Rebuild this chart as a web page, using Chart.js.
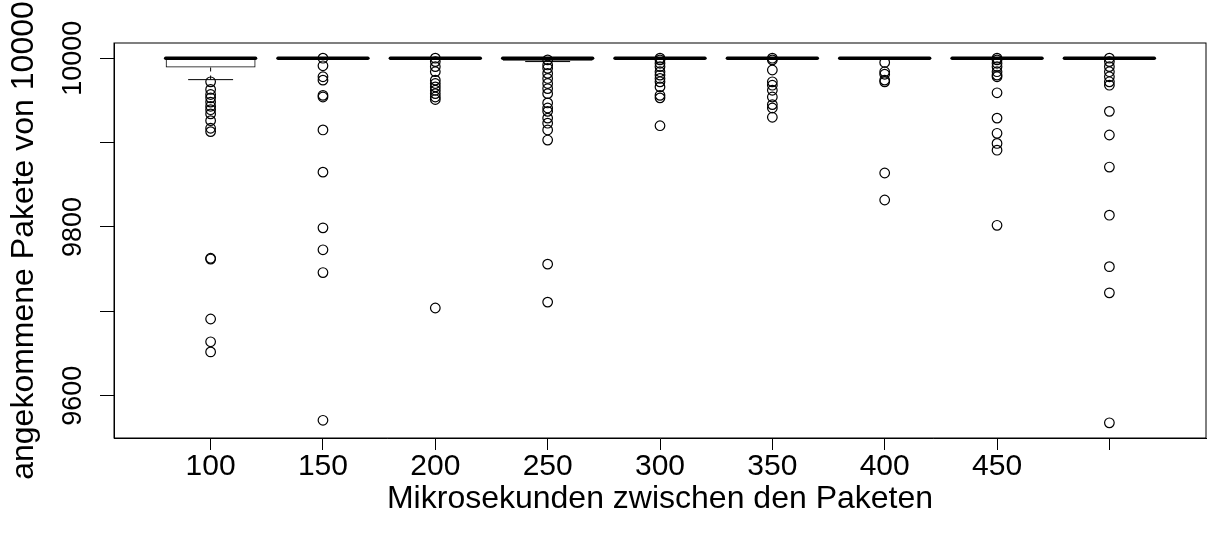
<!DOCTYPE html>
<html lang="de">
<head>
  <meta charset="UTF-8">
  <title>Angekommene Pakete</title>
  <script src="https://cdn.jsdelivr.net/npm/chart.js"></script>
  <style>
    html, body { margin: 0; padding: 0; background: #fff; }
    #wrap { width: 1207px; height: 540px; }
  </style>
</head>
<body>
<div id="wrap"><canvas id="boxChart" width="1207" height="540"></canvas></div>

<script>
  // groups (microseconds between packets); last tick has no label in the original
  const groupLabels = ['100', '150', '200', '250', '300', '350', '400', '450', ''];

  // box statistics per group
  const lowerWhisker = [9974.6, 10000, 10000, 9996, 10000, 10000, 10000, 10000, 10000];
  const lowerQuart   = [9989, 10000, 10000, 9997, 10000, 10000, 10000, 10000, 10000];
  const medians      = [10000, 10000, 10000, 10000, 10000, 10000, 10000, 10000, 10000];
  const upperQuart   = [10000, 10000, 10000, 10000, 10000, 10000, 10000, 10000, 10000];
  const upperWhisker = [10000, 10000, 10000, 10000, 10000, 10000, 10000, 10000, 10000];

  // outliers per group
  const out100 = [9972, 9963, 9957, 9953, 9948, 9943, 9939, 9934, 9926, 9917, 9913, 9763, 9762, 9691, 9664, 9652];
  const out150 = [10000, 9991, 9978, 9974, 9956, 9954, 9915, 9865, 9799, 9773, 9746, 9571];
  const out200 = [10000, 9996, 9990, 9984, 9974, 9970, 9966, 9962, 9958, 9954, 9951, 9704];
  const out250 = [9998, 9992, 9988, 9982, 9976, 9970, 9964, 9958, 9947, 9941, 9937, 9929, 9923, 9915, 9903, 9756, 9711];
  const out300 = [10000, 9998, 9994, 9990, 9984, 9980, 9976, 9972, 9966, 9956, 9953, 9920];
  const out350 = [10000, 9998, 9986, 9972, 9968, 9962, 9954, 9945, 9941, 9930];
  const out400 = [9995, 9984, 9981, 9974, 9972, 9864, 9832];
  const out450 = [10000, 9998, 9994, 9990, 9984, 9980, 9978, 9959, 9929, 9911, 9899, 9891, 9802];
  const out500 = [10000, 9996, 9990, 9984, 9978, 9972, 9968, 9937, 9909, 9871, 9814, 9753, 9722, 9568];

  const yTicks = [9600, 9700, 9800, 9900, 10000];
  const yTickLabels = ['9600', '', '9800', '', '10000'];

  const allOutliers = [out100, out150, out200, out250, out300, out350, out400, out450, out500];

  const boxData = groupLabels.map((_, i) => ({ x: i + 1, y: [lowerQuart[i], upperQuart[i]] }));
  const pointData = [];
  allOutliers.forEach((arr, i) => arr.forEach(v => pointData.push({ x: i + 1, y: v })));

  const FONT = '"Liberation Sans", Arial, Helvetica, sans-serif';

  // whiskers, staples, medians and the frame, drawn from the scales
  const boxplotExtras = {
    id: 'boxplotExtras',
    afterDatasetsDraw(chart) {
      const { ctx, chartArea } = chart;
      const xs = chart.scales.x, ys = chart.scales.y;
      const half = (xs.getPixelForValue(2) - xs.getPixelForValue(1)) * 0.4;
      ctx.save();
      ctx.strokeStyle = '#000';
      for (let i = 0; i < groupLabels.length; i++) {
        const cx = xs.getPixelForValue(i + 1);
        const q1 = ys.getPixelForValue(lowerQuart[i]);
        const q3 = ys.getPixelForValue(upperQuart[i]);
        const wl = ys.getPixelForValue(lowerWhisker[i]);
        const wh = ys.getPixelForValue(upperWhisker[i]);
        // dashed whiskers
        ctx.lineWidth = 1;
        ctx.setLineDash([4, 4]);
        ctx.beginPath();
        ctx.moveTo(cx, q1); ctx.lineTo(cx, wl);
        ctx.moveTo(cx, q3); ctx.lineTo(cx, wh);
        ctx.stroke();
        ctx.setLineDash([]);
        // staples
        ctx.beginPath();
        ctx.moveTo(cx - half / 2, wl); ctx.lineTo(cx + half / 2, wl);
        ctx.moveTo(cx - half / 2, wh); ctx.lineTo(cx + half / 2, wh);
        ctx.stroke();
        // median
        const m = ys.getPixelForValue(medians[i]);
        ctx.lineWidth = 3.5;
        ctx.lineCap = 'round';
        ctx.beginPath();
        ctx.moveTo(cx - half, m); ctx.lineTo(cx + half, m);
        ctx.stroke();
        ctx.lineCap = 'butt';
      }
      ctx.lineWidth = 1;
      ctx.strokeRect(chartArea.left, chartArea.top, chartArea.right - chartArea.left, chartArea.bottom - chartArea.top);
      ctx.restore();
    }
  };

  new Chart(document.getElementById('boxChart'), {
    type: 'bar',
    data: {
      datasets: [
        {
          type: 'bar',
          data: boxData,
          backgroundColor: 'rgba(0,0,0,0)',
          borderColor: '#000',
          borderWidth: 1,
          borderSkipped: false,
          barPercentage: 0.8,
          categoryPercentage: 1,
          grouped: false
        },
        {
          type: 'scatter',
          data: pointData,
          pointRadius: 4.8,
          pointBorderWidth: 1.2,
          borderColor: '#000',
          backgroundColor: 'rgba(0,0,0,0)',
          pointHoverRadius: 4.8
        }
      ]
    },
    options: {
      responsive: false,
      animation: false,
      layout: { autoPadding: false, padding: { top: 43, right: 1, left: 0, bottom: 0 } },
      plugins: { legend: { display: false }, tooltip: { enabled: false } },
      scales: {
        x: {
          type: 'linear',
          min: 0.14,
          max: 9.86,
          offset: false,
          bounds: 'data',
          afterBuildTicks: (s) => { s.ticks = groupLabels.map((_, i) => ({ value: i + 1 })); },
          afterFit: (s) => { s.height = 102; },
          grid: { display: true, offset: false, drawOnChartArea: false, drawTicks: true, tickLength: 12, color: '#000' },
          border: { display: true, color: '#000', width: 1 },
          ticks: {
            autoSkip: false,
            maxRotation: 0,
            padding: -1,
            color: '#000',
            font: { family: FONT, size: 30 },
            callback: (v) => groupLabels[v - 1] ?? ''
          },
          title: {
            display: true,
            text: 'Mikrosekunden zwischen den Paketen',
            color: '#000',
            font: { family: FONT, size: 32 },
            padding: { top: 0, bottom: 22 }
          }
        },
        y: {
          min: 9550,
          max: 10018,
          bounds: 'data',
          afterBuildTicks: (s) => { s.ticks = yTicks.map(v => ({ value: v })); },
          afterFit: (s) => { s.width = 114; },
          grid: { display: true, drawOnChartArea: false, drawTicks: true, tickLength: 14, color: '#000' },
          border: { display: true, color: '#000', width: 1 },
          ticks: {
            autoSkip: false,
            minRotation: 90,
            maxRotation: 90,
            crossAlign: 'center',
            padding: -11,
            color: '#000',
            font: { family: FONT, size: 27 },
            callback: (v) => yTickLabels[yTicks.indexOf(v)] ?? ''
          },
          title: {
            display: true,
            text: 'angekommene Pakete von 10000',
            color: '#000',
            font: { family: FONT, size: 32 },
            padding: { top: 5, bottom: 0 }
          }
        }
      }
    },
    plugins: [boxplotExtras]
  });
</script>
</body>
</html>
